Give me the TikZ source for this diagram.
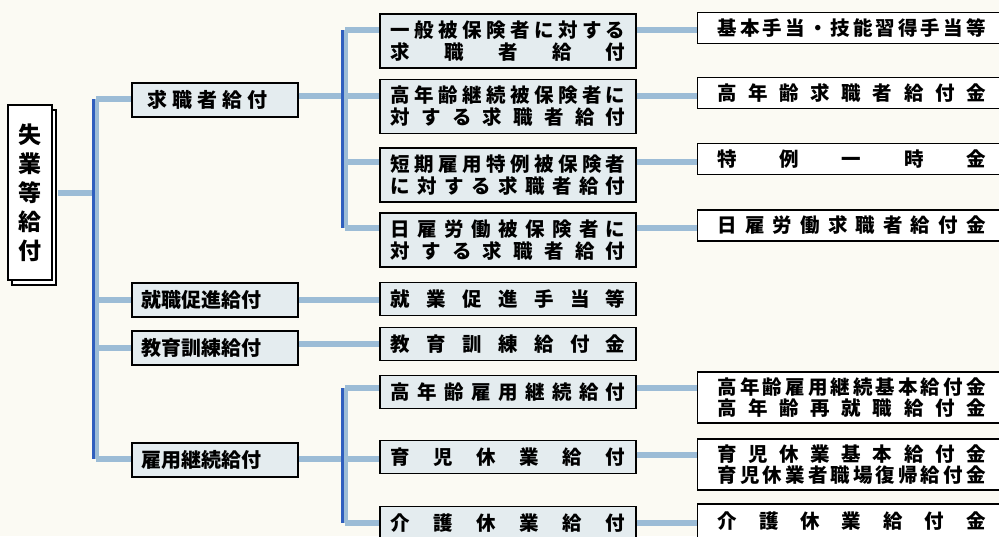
\documentclass[tikz,border=0pt]{standalone}
\usepackage{fontspec}
\newfontfamily\jpfont{Noto Sans CJK JP}
\definecolor{paper}{HTML}{FBFAF3}
\definecolor{boxfill}{HTML}{E4ECEF}
\definecolor{linkblue}{HTML}{9CBCD6}
\definecolor{busblue}{HTML}{2F5EBE}
% spread the characters of a text over a given width
\def\spreadchars#1{\ifx\relax#1\else#1\expandafter\spreadnext\fi}
\def\spreadnext#1{\ifx\relax#1\else\hfill#1\expandafter\spreadnext\fi}
\newcommand{\spreadtext}[2]{\makebox[#1]{\spreadchars#2\relax}}
\tikzstyle{kind} = [draw, line width=1.3pt, fill=boxfill, minimum width=166pt,
    minimum height=34pt, text width=146pt, inner xsep=10pt, align=left,
    font=\jpfont\bfseries\fontsize{20}{22}\selectfont]
\tikzstyle{detail} = [draw, line width=1.3pt, fill=boxfill, text width=235pt,
    inner xsep=10.5pt, inner ysep=0pt, minimum height=33pt, align=left,
    font=\jpfont\bfseries\fontsize{19.5}{22}\selectfont]
\tikzstyle{payout} = [draw, line width=1.3pt, fill=white, anchor=west, text width=268pt,
    inner xsep=20pt, inner ysep=0pt, minimum height=31pt, align=left,
    font=\jpfont\bfseries\fontsize{19.5}{21.5}\selectfont]
\tikzstyle{link} = [draw=linkblue, line width=6pt]
\tikzstyle{bus} = [draw=busblue, line width=2.6pt]

\begin{document}
\begin{tikzpicture}[x=1pt, y=-1pt]
	\useasboundingbox (0,0) rectangle (999,536);
	\clip (0,0) rectangle (999,536);
	\fill[paper] (0,0) rectangle (999,536);

	\node [draw, line width=1.3pt, fill=white, minimum width=44pt, minimum height=175pt] (shitsuback) at (34,197.5) {};
	\node [draw, line width=1.3pt, fill=white, minimum width=44pt, minimum height=175pt, align=center,
		font=\jpfont\bfseries\fontsize{23}{29}\selectfont] (shitsu) at (30,192.5) {失\\業\\等\\給\\付};

	\node [kind] (kyushoku) at (215,100) {\hspace{5pt}\spreadtext{120pt}{求職者給付}};
	\node [kind] (shusoku) at (215,300) {\spreadtext{118pt}{就職促進給付}};
	\node [kind] (kyoiku) at (215,348) {\spreadtext{118pt}{教育訓練給付}};
	\node [kind] (keizoku) at (215,460) {\spreadtext{118pt}{雇用継続給付}};

	\node [detail, minimum height=54pt] (ippan) at (508,41) {\spreadtext{235pt}{一般被保険者に対する}\\\spreadtext{235pt}{求職者給付}};
	\node [detail, minimum height=54pt] (konen) at (508,106.5) {\spreadtext{235pt}{高年齢継続被保険者に}\\\spreadtext{235pt}{対する求職者給付}};
	\node [detail, minimum height=54pt] (tanki) at (508,175) {\spreadtext{235pt}{短期雇用特例被保険者}\\\spreadtext{235pt}{に対する求職者給付}};
	\node [detail, minimum height=54pt] (hiyatoi) at (508,240) {\spreadtext{235pt}{日雇労働被保険者に}\\\spreadtext{235pt}{対する求職者給付}};
	\node [detail] (sokushin) at (508,299) {\spreadtext{235pt}{就業促進手当等}};
	\node [detail] (kunren) at (508,344) {\spreadtext{235pt}{教育訓練給付金}};
	\node [detail] (koyo) at (508,392) {\spreadtext{235pt}{高年齢雇用継続給付}};
	\node [detail] (ikuji) at (508,457) {\spreadtext{235pt}{育児休業給付}};
	\node [detail] (kaigo) at (508,523) {\spreadtext{235pt}{介護休業給付}};

	\node [payout] (kihon) at (697,28) {\spreadtext{268pt}{基本手当・技能習得手当等}};
	\node [payout] (konenkyu) at (697,93) {\spreadtext{268pt}{高年齢求職者給付金}};
	\node [payout] (tokurei) at (697,159) {\spreadtext{268pt}{特例一時金}};
	\node [payout] (hiyatoikyu) at (697,225.5) {\spreadtext{268pt}{日雇労働求職者給付金}};
	\node [payout, minimum height=51pt] (konenkihon) at (697,397.5) {\spreadtext{268pt}{高年齢雇用継続基本給付金}\\\spreadtext{268pt}{高年齢再就職給付金}};
	\node [payout, minimum height=51pt] (ikujikihon) at (697,464.5) {\spreadtext{268pt}{育児休業基本給付金}\\\spreadtext{268pt}{育児休業者職場復帰給付金}};
	\node [payout, minimum height=34pt] (kaigokin) at (697,521) {\spreadtext{268pt}{介護休業給付金}};

	% trunk and buses
	\coordinate (trunktop) at (96,99);
	\coordinate (trunkbot) at (96,459);
	\coordinate (busa) at (345,30);
	\coordinate (rowb) at (345,96);
	\coordinate (rowc) at (345,162);
	\coordinate (busb) at (345,228);
	\coordinate (busc) at (345,388);
	\coordinate (rowd) at (345,455);
	\coordinate (busd) at (345,523);

	\path [link] ([xshift=5pt]shitsu.east) -- (shitsu.east -| trunktop);
	\path [link] (trunktop) -- (trunkbot);
	\path [link] (trunktop) -- (kyushoku.west |- trunktop);
	\path [link] (trunktop |- shusoku) -- (shusoku.west);
	\path [link] (trunktop |- kyoiku) -- (kyoiku.west);
	\path [link] (trunkbot) -- (keizoku.west |- trunkbot);
	\path [bus] ([xshift=-2.5pt]trunktop) -- ([xshift=-2.5pt]trunkbot);

	\path [link] (busa) -- (busb);
	\path [link] (busa) -- (ippan.west |- busa);
	\path [link] (kyushoku.east |- rowb) -- (konen.west |- rowb);
	\path [link] (rowc) -- (tanki.west |- rowc);
	\path [link] (busb) -- (hiyatoi.west |- busb);
	\path [bus] ([xshift=-2.5pt]busa) -- ([xshift=-2.5pt]busb);

	\path [link] (shusoku.east) -- (sokushin.west |- shusoku);
	\path [link] (kyoiku.east |- kunren) -- (kunren.west);

	\path [link] (busc) -- (busd);
	\path [link] (keizoku.east |- trunkbot) -- (ikuji.west |- trunkbot);
	\path [link] (busc) -- (koyo.west |- busc);
	\path [link] (busd) -- (kaigo.west |- busd);
	\path [bus] ([xshift=-2.5pt]busc) -- ([xshift=-2.5pt]busd);

	\path [link] (ippan.east |- busa) -- (kihon.west |- busa);
	\path [link] (konen.east |- rowb) -- (konenkyu.west |- rowb);
	\path [link] (tanki.east |- rowc) -- (tokurei.west |- rowc);
	\path [link] (hiyatoi.east |- busb) -- (hiyatoikyu.west |- busb);
	\path [link] (koyo.east |- busc) -- (konenkihon.west |- busc);
	\path [link] (ikuji.east |- rowd) -- (ikujikihon.west |- rowd);
	\path [link] (kaigo.east |- busd) -- (kaigokin.west |- busd);
\end{tikzpicture}
\end{document}
